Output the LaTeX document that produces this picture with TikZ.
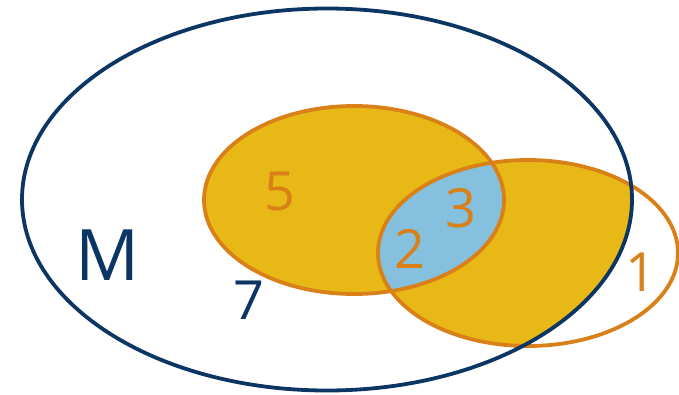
\documentclass[tikz,border=0pt]{standalone}
\usepackage{fontspec}
\setmainfont{Open Sans}
\definecolor{navyc}{HTML}{0B3563}
\definecolor{orangec}{HTML}{D98019}
\definecolor{yellowc}{HTML}{E8B817}
\definecolor{bluec}{HTML}{85C1DE}
\tikzset{
  setline/.style={line width=3.8pt},
  lbl/.style={inner sep=0pt, font=\fontsize{54}{54}\selectfont},
}
\begin{document}
\begin{tikzpicture}[x=1pt,y=-1pt]
\useasboundingbox (0,0) rectangle (679,394);
\begin{scope}
  \clip (327,199.5) ellipse [x radius=305, y radius=191];
  \fill[yellowc] (354,200) ellipse [x radius=150, y radius=94];
  \fill[yellowc] (528,253) ellipse [x radius=150, y radius=93];
\end{scope}
\begin{scope}
  \clip (354,200) ellipse [x radius=150, y radius=94];
  \fill[bluec] (528,253) ellipse [x radius=150, y radius=93];
\end{scope}
\draw[setline, orangec] (354,200) ellipse [x radius=150, y radius=94];
\draw[setline, orangec] (528,253) ellipse [x radius=150, y radius=93];
\draw[setline, navyc] (327,199.5) ellipse [x radius=305, y radius=191];
\node[lbl, navyc, font=\fontsize{71}{71}\selectfont] (m) at (108,255) {M};
\node[lbl, navyc] (n7) at (249,300) {7};
\node[lbl, orangec] (n5) at (280,191) {5};
\node[lbl, orangec] (n2) at (410,249) {2};
\node[lbl, orangec] (n3) at (461,208) {3};
\node[lbl, orangec] (n1) at (641,272) {1};
\end{tikzpicture}
\end{document}
